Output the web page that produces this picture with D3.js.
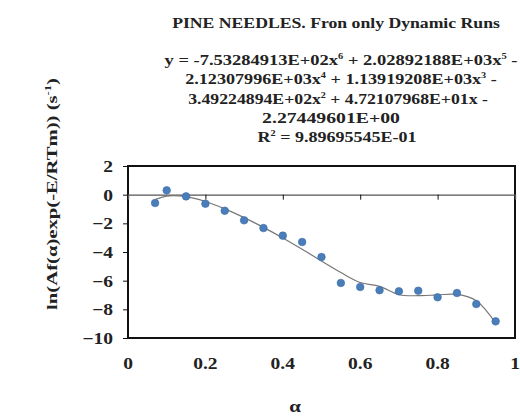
<!DOCTYPE html>
<html><head><meta charset="utf-8">
<script src="https://cdn.jsdelivr.net/npm/d3@7"></script>
<style>
body{margin:0;background:#fff;}
svg{display:block;font-family:"Liberation Serif","Times New Roman",serif;font-weight:bold;}
</style></head>
<body><svg id="c" width="520" height="416"></svg>
<script>
const alphaValues = [0.07,0.10,0.15,0.20,0.25,0.30,0.35,0.40,0.45,0.50,0.55,0.60,0.65,0.70,0.75,0.80,0.85,0.90,0.95];
const lnValues    = [-0.58,0.30,-0.12,-0.63,-1.12,-1.79,-2.33,-2.86,-3.30,-4.35,-6.16,-6.44,-6.67,-6.74,-6.70,-7.16,-6.86,-7.63,-8.84];
const trendAlpha  = [0.07,0.10,0.15,0.20,0.25,0.30,0.35,0.40,0.45,0.50,0.55,0.60,0.65,0.70,0.75,0.80,0.85,0.90,0.95];
const trendValues = [-0.34,-0.10,-0.14,-0.48,-0.99,-1.60,-2.28,-3.02,-3.81,-4.63,-5.43,-6.13,-6.40,-6.98,-7.05,-6.99,-6.96,-7.40,-8.96];
const xTicks = [0,0.2,0.4,0.6,0.8,1];
const yTicks = [2,0,-2,-4,-6,-8,-10];
const titleText = "PINE NEEDLES. Fron only Dynamic Runs";
const eqLines = [
  ["y = -7.53284913E+02x","6"," + 2.02892188E+03x","5"," -"],
  ["2.12307996E+03x","4"," + 1.13919208E+03x","3"," -"],
  ["3.49224894E+02x","2"," + 4.72107968E+01x -"],
  ["2.27449601E+00"],
  ["R","2"," = 9.89695545E-01"]
];

const svg = d3.select("#c");
const L=128,R=515,T=166,B=338;
const x = d3.scaleLinear().domain([0,1]).range([L,R]);
const y = d3.scaleLinear().domain([-10,2]).range([B,T]);
const SX = 1.22; // horizontal stretch of the reference's text

// fit a text (drawn at origin, anchor middle) into a target width
function fitText(g, txt, target){
  const w = txt.node().getComputedTextLength();
  txt.attr("transform",`scale(${target/w},1)`);
}

// title
{
  const g = svg.append("g").attr("transform","translate(336,28)");
  const t = g.append("text").attr("text-anchor","middle").attr("font-size",14).attr("fill","#222").text(titleText);
  fitText(g,t,328);
}

// equation
const eqWidths=[353,312,300,138,159];
const eqCenters=[341,341,338,331,337];
eqLines.forEach((parts,i)=>{
  const g = svg.append("g").attr("transform",`translate(${eqCenters[i]},${65+i*19.3})`);
  const t = g.append("text").attr("text-anchor","middle").attr("font-size",15).attr("fill","#222");
  parts.forEach((p,j)=>{
    const isSup = j%2===1;
    const ts = t.append("tspan").text(p);
    if(isSup){ ts.attr("font-size",8.5).attr("dy",-6); }
    else if(j>0){ ts.attr("dy",6); }
  });
  fitText(g,t,eqWidths[i]);
});

// plot box
svg.append("rect").attr("x",L).attr("y",T).attr("width",R-L).attr("height",B-T)
  .attr("fill","none").attr("stroke","#111").attr("stroke-width",2);

// y axis ticks
const ya = svg.append("g").attr("transform",`translate(${L},0)`)
  .call(d3.axisLeft(y).tickValues(yTicks).tickSize(5).tickFormat(d3.format("d")));
ya.select(".domain").remove();
ya.selectAll("line").attr("stroke","#111");
ya.selectAll("text").attr("font-size",16).attr("font-family","Liberation Serif").attr("font-weight","bold")
  .attr("fill","#222").attr("x",0).attr("dy","0.34em")
  .attr("transform",`translate(-15,0) scale(${SX},1)`);

// x axis line at y=0 with ticks
const xa = svg.append("g").attr("transform",`translate(0,${y(0)})`)
  .call(d3.axisBottom(x).tickValues(xTicks.filter(d=>d>0&&d<1)).tickSize(5).tickFormat(""));
xa.select(".domain").attr("stroke","#555").attr("stroke-width",1.3);
xa.selectAll("line").attr("stroke","#111");

// x tick labels at bottom
svg.append("g").selectAll("text").data(xTicks).join("text")
  .attr("transform",d=>`translate(${x(d)},369) scale(${SX},1)`).attr("text-anchor","middle")
  .attr("font-size",16).attr("fill","#222").text(d=>d===0||d===1?d3.format("d")(d):d3.format(".1f")(d));

// trend line
const line = d3.line().x(d=>x(d[0])).y(d=>y(d[1])).curve(d3.curveCatmullRom.alpha(0.5));
svg.append("path").datum(trendAlpha.map((a,i)=>[a,trendValues[i]]))
  .attr("d",line).attr("fill","none").attr("stroke","#777").attr("stroke-width",1.2);

// points
svg.append("g").selectAll("circle").data(alphaValues.map((a,i)=>[a,lnValues[i]])).join("circle")
  .attr("cx",d=>x(d[0])).attr("cy",d=>y(d[1])).attr("r",3.8)
  .attr("fill","#4a7ebb").attr("stroke","#3a6aa5").attr("stroke-width",0.6);

// axis titles
{
  const g = svg.append("g").attr("transform","translate(57,194) rotate(-90)");
  const t = g.append("text").attr("text-anchor","middle").attr("font-size",14).attr("fill","#222");
  t.append("tspan").text("ln(Af(α)exp(-E/RTm))  (s");
  t.append("tspan").attr("font-size",8.5).attr("dy",-6).text("-1");
  t.append("tspan").attr("dy",6).text(")");
  fitText(g,t,232);
}
svg.append("text").attr("transform",`translate(295,412) scale(${SX},1)`).attr("text-anchor","middle")
  .attr("font-size",17).attr("fill","#222").text("α");
</script></body></html>
